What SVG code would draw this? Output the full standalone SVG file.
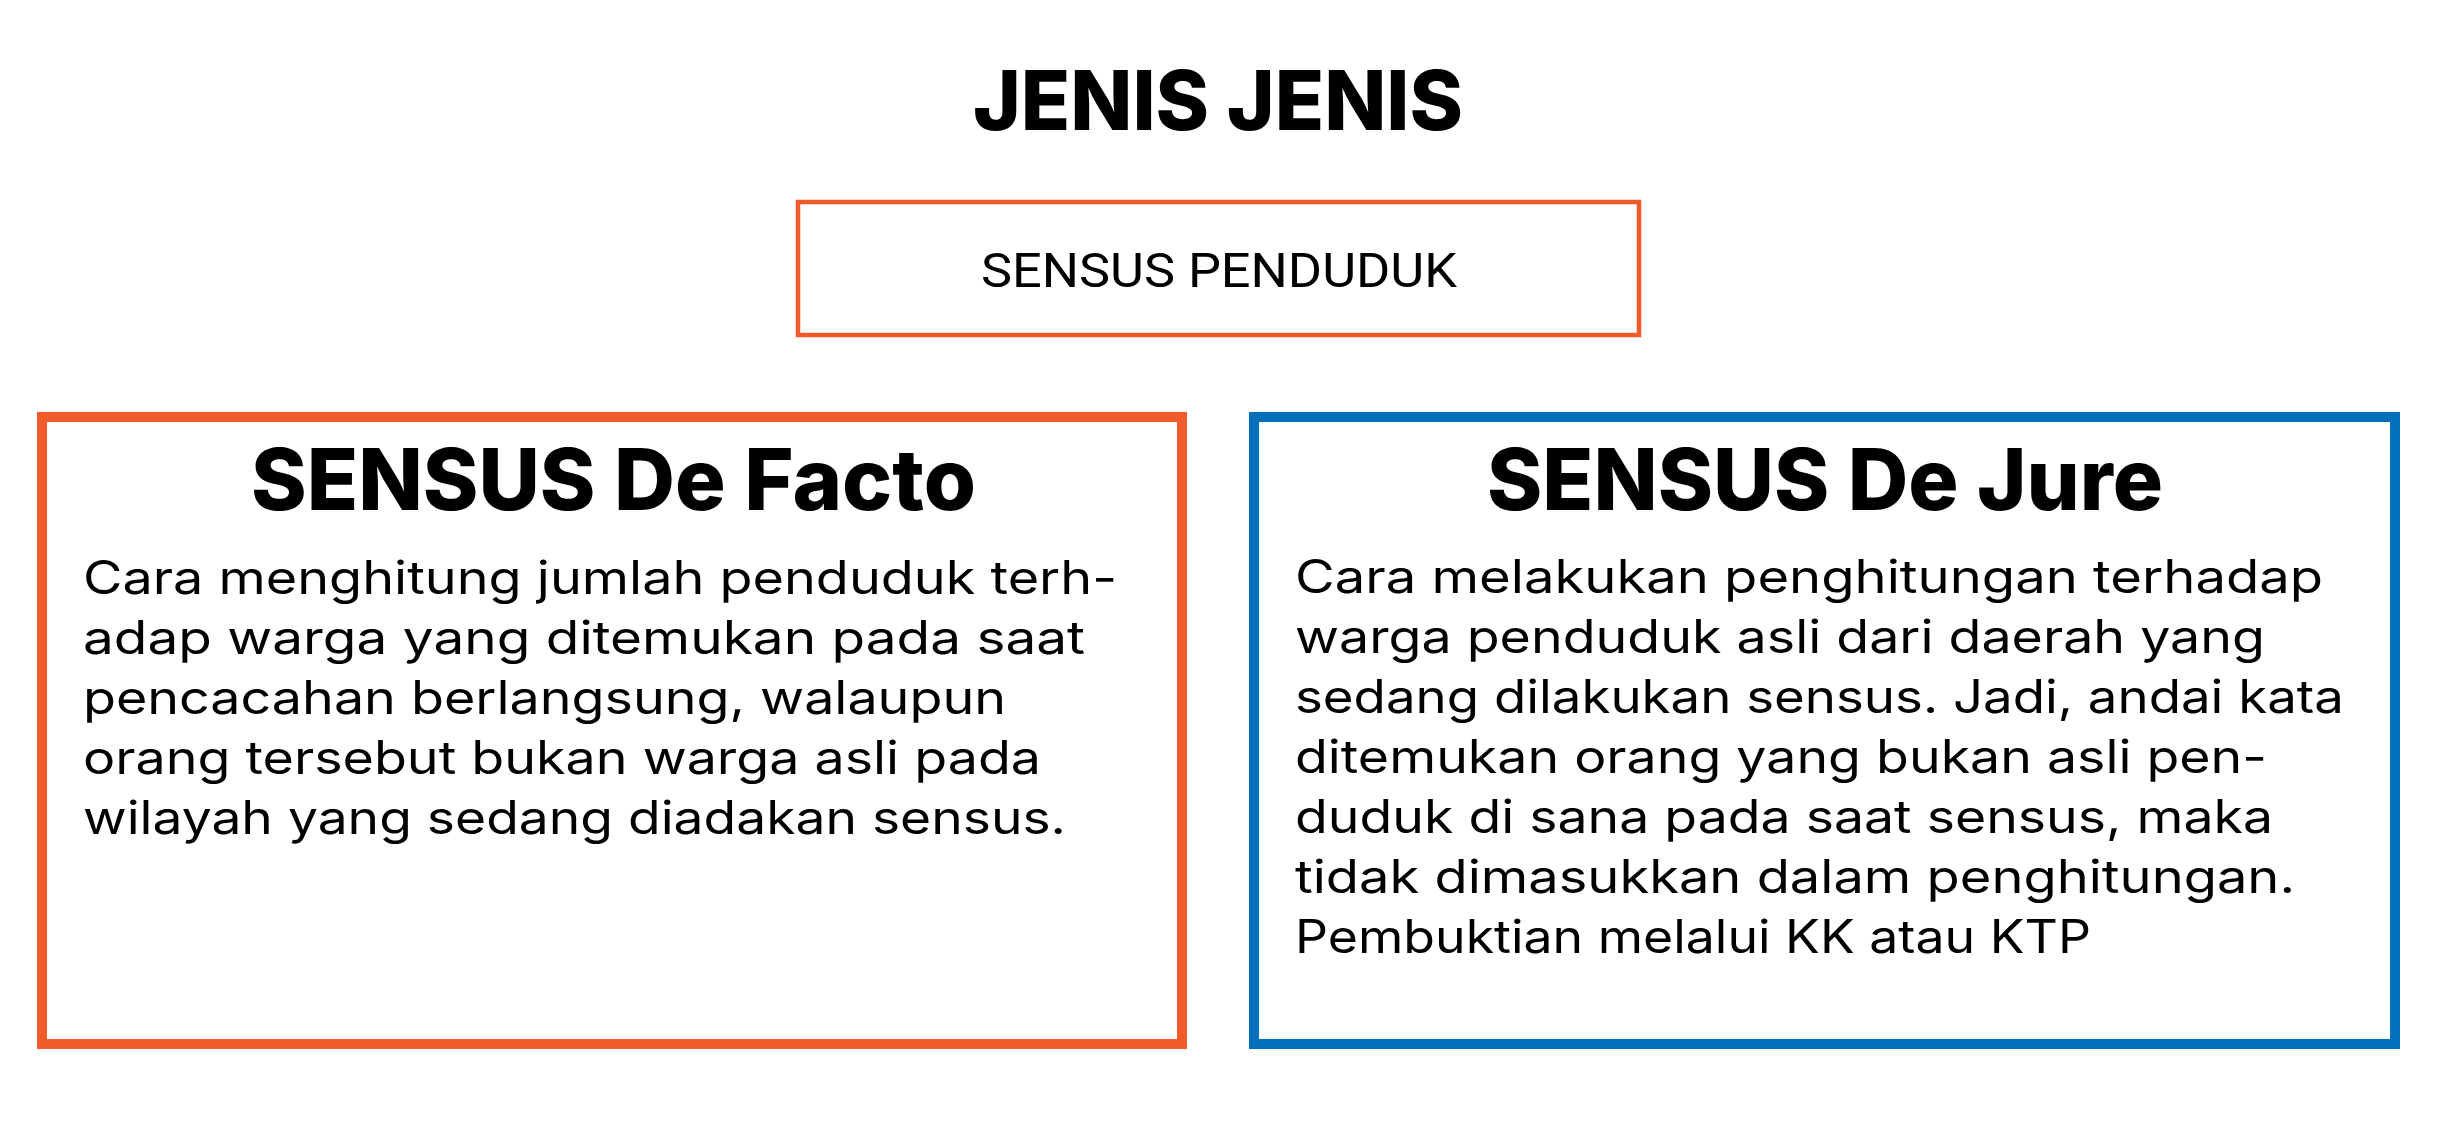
<svg xmlns="http://www.w3.org/2000/svg" width="2437" height="1126" viewBox="0 0 2437 1126">
<style>
.bg{fill:#ffffff}
.title{font-family:Inter,"Open Sans","Liberation Sans",sans-serif;font-weight:800;font-size:83px;fill:#000}
.head{font-family:Inter,"Open Sans","Liberation Sans",sans-serif;font-weight:800;font-size:85px;fill:#000}
.sub{font-family:Roboto,"Liberation Sans",sans-serif;font-weight:400;font-size:48px;fill:#000}
.body{font-family:Inter,"Open Sans","Liberation Sans",sans-serif;font-weight:400;font-size:46px;fill:#000}
.orange{fill:none;stroke:#F15A29}
.blue{fill:none;stroke:#0070BB}
</style>
<rect class="bg" x="0" y="0" width="2437" height="1126"/>
<g id="title">
<text class="title" x="973" y="130" textLength="490" lengthAdjust="spacingAndGlyphs">JENIS JENIS</text>
</g>
<g id="sensus-penduduk">
<rect class="orange" x="798" y="202" width="841" height="133" stroke-width="4.5"/>
<text class="sub" x="981" y="287" textLength="476" lengthAdjust="spacingAndGlyphs">SENSUS PENDUDUK</text>
</g>
<g id="de-facto">
<rect class="orange" x="42" y="417" width="1140" height="627" stroke-width="10"/>
<text class="head" x="251" y="510" textLength="725" lengthAdjust="spacingAndGlyphs">SENSUS De Facto</text>
<text class="body" x="83" y="594" textLength="1034" lengthAdjust="spacingAndGlyphs">Cara menghitung jumlah penduduk terh-</text>
<text class="body" x="83" y="654" textLength="1002" lengthAdjust="spacingAndGlyphs">adap warga yang ditemukan pada saat</text>
<text class="body" x="83" y="714" textLength="923" lengthAdjust="spacingAndGlyphs">pencacahan berlangsung, walaupun</text>
<text class="body" x="83" y="774" textLength="958" lengthAdjust="spacingAndGlyphs">orang tersebut bukan warga asli pada</text>
<text class="body" x="83" y="834" textLength="983" lengthAdjust="spacingAndGlyphs">wilayah yang sedang diadakan sensus.</text>
</g>
<g id="de-jure">
<rect class="blue" x="1254" y="417" width="1141" height="627" stroke-width="10"/>
<text class="head" x="1487" y="510" textLength="676" lengthAdjust="spacingAndGlyphs">SENSUS De Jure</text>
<text class="body" x="1295" y="593" textLength="1028" lengthAdjust="spacingAndGlyphs">Cara melakukan penghitungan terhadap</text>
<text class="body" x="1295" y="653" textLength="970" lengthAdjust="spacingAndGlyphs">warga penduduk asli dari daerah yang</text>
<text class="body" x="1295" y="713" textLength="1049" lengthAdjust="spacingAndGlyphs">sedang dilakukan sensus. Jadi, andai kata</text>
<text class="body" x="1295" y="773" textLength="972" lengthAdjust="spacingAndGlyphs">ditemukan orang yang bukan asli pen-</text>
<text class="body" x="1295" y="833" textLength="978" lengthAdjust="spacingAndGlyphs">duduk di sana pada saat sensus, maka</text>
<text class="body" x="1295" y="893" textLength="1000" lengthAdjust="spacingAndGlyphs">tidak dimasukkan dalam penghitungan.</text>
<text class="body" x="1295" y="953" textLength="796" lengthAdjust="spacingAndGlyphs">Pembuktian melalui KK atau KTP</text>
</g>
<g id="connectors"></g>
</svg>
